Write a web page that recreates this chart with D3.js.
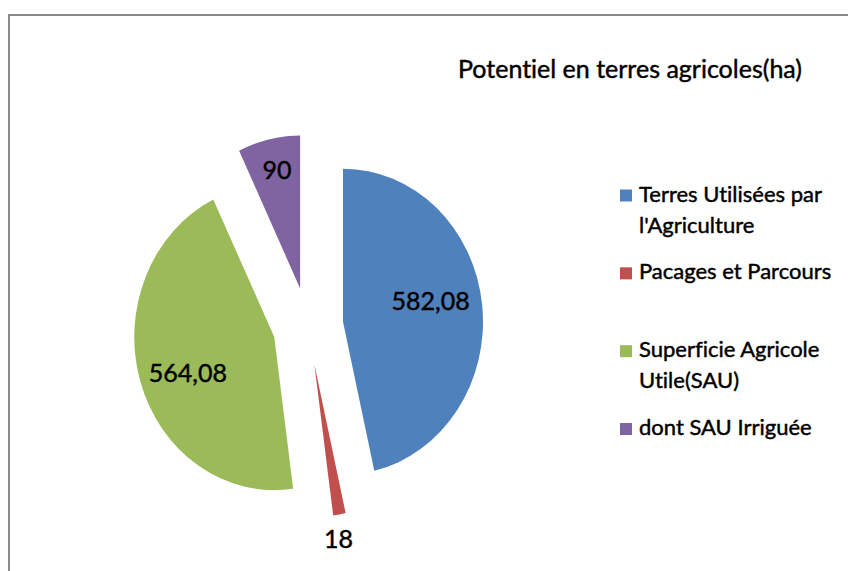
<!DOCTYPE html>
<html>
<head>
<meta charset="utf-8">
<script src="https://cdn.jsdelivr.net/npm/d3@7"></script>
<style>
  body { margin: 0; background: #fff; }
  svg { display: block; font-family: Lato, "Open Sans", sans-serif; font-variant-ligatures: none; }
  /* the reference text is a little heavier than Lato regular */
  text { fill: #000; stroke: #000; stroke-width: 0.45px; }
</style>
</head>
<body>
<svg id="chart"></svg>
<script>
// data
const categories = ["Terres Utilisées par l'Agriculture", "Pacages et Parcours", "Superficie Agricole Utile(SAU)", "dont SAU Irriguée"];
const legendLines = [["Terres Utilisées par", "l'Agriculture"], ["Pacages et Parcours"], ["Superficie Agricole", "Utile(SAU)"], ["dont SAU Irriguée"]];
const values = [582.08, 18, 564.08, 90];
const colors = ["#4F81BD", "#C0504D", "#9BBB59", "#8064A2"];
const title = "Potentiel en terres agricoles(ha)";

const width = 848, height = 571;
const center = {x: 308, y: 326};
const radius = 153;
const squash = 0.915;   // pie is a bit narrower than tall
const explode = 38.5;
// label placement: fraction of radius, and angle nudge (deg) off the slice middle
const labelPos = [0.64, 1.16, 0.66, 0.79];
const labelNudge = [-5.5, 1.8, -4, 0.8];

const fr = d3.formatLocale({decimal: ",", thousands: " ", grouping: [3], currency: ["", " €"]});
const fmt = fr.format("~f");

const svg = d3.select("#chart")
    .attr("width", width)
    .attr("height", height);

// frame (cut off on the right and bottom)
svg.append("rect")
    .attr("x", 9).attr("y", 15)
    .attr("width", 900).attr("height", 600)
    .attr("fill", "none")
    .attr("stroke", "#8a8a8a")
    .attr("stroke-width", 2);

svg.append("text")
    .attr("x", 630).attr("y", 78)
    .attr("text-anchor", "middle")
    .style("font-size", "25px")
    .text(title);

const pie = d3.pie().sort(null).value(d => d);
const arcs = pie(values);
const arc = d3.arc().innerRadius(0).outerRadius(radius);

const mid = d => (d.startAngle + d.endAngle) / 2;
const dir = a => [Math.sin(a), -Math.cos(a)];

const pieG = svg.append("g")
    .attr("transform", `translate(${center.x},${center.y}) scale(${squash},1)`);

pieG.selectAll("path")
    .data(arcs)
    .join("path")
    .attr("fill", (d, i) => colors[i])
    .attr("transform", d => {
        const [ux, uy] = dir(mid(d));
        return `translate(${ux * explode},${uy * explode})`;
    })
    .attr("d", arc);

// value labels: start from the exploded apex of each slice
const labelXY = (d, i) => {
    const [ex, ey] = dir(mid(d));
    const [lx, ly] = dir(mid(d) + labelNudge[i] * Math.PI / 180);
    const r = labelPos[i] * radius;
    return [center.x + squash * (ex * explode + lx * r), center.y + ey * explode + ly * r];
};

svg.append("g")
    .selectAll("text")
    .data(arcs)
    .join("text")
    .attr("x", (d, i) => labelXY(d, i)[0])
    .attr("y", (d, i) => labelXY(d, i)[1])
    .attr("dy", "0.36em")
    .attr("text-anchor", "middle")
    .style("font-size", "25px")
    .text(d => fmt(d.data));

// legend
const legendY = d3.scalePoint()
    .domain(categories)
    .range([201.5, 435]);

const legend = svg.append("g")
    .selectAll("g")
    .data(categories)
    .join("g")
    .attr("transform", d => `translate(620,${legendY(d)})`);

legend.append("rect")
    .attr("x", 0).attr("y", -12)
    .attr("width", 12).attr("height", 12)
    .attr("fill", (d, i) => colors[i]);

legend.append("text")
    .attr("x", 19)
    .style("font-size", "22px")
    .selectAll("tspan")
    .data((d, i) => legendLines[i])
    .join("tspan")
    .attr("x", 19)
    .attr("dy", (d, j) => j === 0 ? 0 : 31)
    .text(d => d);
</script>
</body>
</html>
